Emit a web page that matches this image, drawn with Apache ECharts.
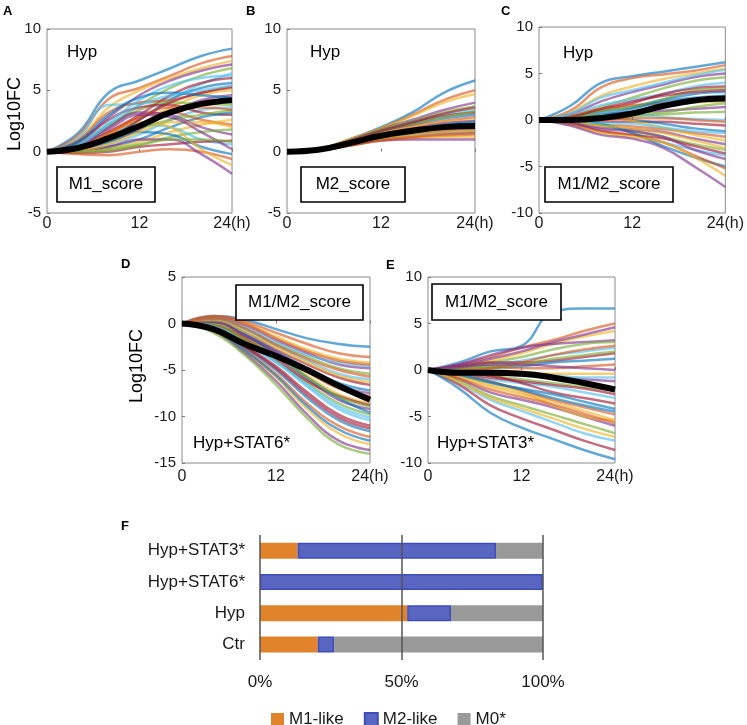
<!DOCTYPE html>
<html>
<head>
<meta charset="utf-8">
<script src="https://cdn.jsdelivr.net/npm/echarts@6/dist/echarts.min.js"></script>
<style>html,body{margin:0;padding:0;background:#fff;}#c{width:747px;height:725px;}</style>
</head>
<body>
<div id="c"></div>
<script>
// ---------------- DATA ----------------
const times = [0, 4, 8, 12, 16, 20, 24];
const xTickLabels = ['0', '12', '24(h)'];

// Panel A: Hyp, M1_score
const panelA_mean = [0, 0.3, 1.1, 2.1, 3.2, 3.9, 4.2];
const panelA_lines = [
  [0, 1.5, 4.8, 5.8, 6.8, 7.8, 8.4],
  [0, 1.3, 4.3, 5.2, 6.2, 7.2, 7.8],
  [0, 1.0, 3.6, 5.0, 6.0, 6.8, 7.4],
  [0, 0.8, 2.8, 4.6, 5.8, 6.6, 7.1],
  [0, 0.6, 2.0, 3.8, 5.2, 6.2, 6.8],
  [0, 1.1, 3.8, 3.9, 4.4, 5.5, 6.4],
  [0, 0.5, 1.6, 3.0, 4.6, 5.6, 6.0],
  [0, 0.4, 1.2, 2.6, 4.2, 5.2, 5.6],
  [0, 0.9, 3.2, 4.0, 4.2, 4.8, 5.2],
  [0, 0.3, 1.0, 2.2, 3.6, 4.6, 5.0],
  [0, 0.2, 0.8, 1.8, 3.2, 4.2, 4.6],
  [0, 0.6, 2.2, 3.4, 4.0, 3.9, 3.8],
  [0, 0.2, 0.6, 1.4, 2.6, 3.4, 3.6],
  [0, 0.7, 2.6, 3.6, 3.8, 3.2, 3.0],
  [0, 0.1, 0.4, 1.0, 2.0, 2.8, 3.2],
  [0, 0.4, 1.6, 2.8, 3.2, 2.6, 2.2],
  [0, 0.1, 0.3, 0.8, 1.6, 2.2, 2.6],
  [0, 0.5, 2.0, 3.2, 3.0, 2.0, 1.4],
  [0, 0.0, 0.2, 0.6, 1.2, 1.6, 1.8],
  [0, 0.3, 1.2, 2.2, 2.0, 1.0, 0.6],
  [0, -0.1, 0.0, 0.4, 0.6, 0.8, 0.9],
  [0, 0.2, 0.8, 1.6, 1.4, 0.4, -0.2],
  [0, -0.2, -0.3, 0.0, 0.2, 0.0, -0.6],
  [0, 0.4, 1.4, 2.4, 2.0, 0.2, -1.1],
  [0, 0.1, 0.4, 1.0, 1.0, -0.2, -1.8],
  [0, 0.3, 0.9, 1.9, 2.6, 3.0, 3.4],
  [0, 0.6, 2.4, 4.2, 5.4, 6.0, 6.2],
  [0, 0.2, 1.0, 2.6, 4.0, 4.8, 5.3],
  [0, 0.8, 3.0, 4.4, 4.8, 4.6, 4.4],
  [0, 0.3, 1.4, 2.8, 3.6, 3.6, 3.4],
  [0, 0.1, 0.6, 1.6, 2.4, 2.4, 2.0],
  [0, 0.4, 1.8, 3.0, 2.8, 1.6, 0.2],
  [0, 0.0, 0.1, 0.5, 1.0, 1.0, 0.8],
  [0, 0.5, 2.2, 3.8, 4.6, 5.0, 5.4]
];

// Panel B: Hyp, M2_score
const panelB_mean = [0, 0.15, 0.7, 1.3, 1.7, 2.0, 2.1];
const panelB_lines = [
  [0, 0.2, 1.0, 2.0, 3.2, 4.8, 5.8],
  [0, 0.2, 1.0, 1.9, 3.0, 4.2, 5.0],
  [0, 0.2, 1.0, 1.9, 2.9, 4.0, 4.7],
  [0, 0.2, 0.9, 1.8, 2.6, 3.4, 4.0],
  [0, 0.2, 0.9, 1.8, 2.5, 3.2, 3.7],
  [0, 0.2, 0.9, 1.7, 2.4, 3.0, 3.4],
  [0, 0.2, 0.8, 1.6, 2.3, 2.9, 3.2],
  [0, 0.2, 0.8, 1.6, 2.2, 2.7, 3.0],
  [0, 0.2, 0.8, 1.5, 2.1, 2.5, 2.8],
  [0, 0.2, 0.7, 1.5, 2.0, 2.4, 2.6],
  [0, 0.2, 0.7, 1.4, 1.9, 2.3, 2.5],
  [0, 0.2, 0.7, 1.3, 1.8, 2.1, 2.3],
  [0, 0.15, 0.6, 1.2, 1.6, 1.9, 2.0],
  [0, 0.15, 0.6, 1.1, 1.5, 1.7, 1.8],
  [0, 0.15, 0.6, 1.0, 1.4, 1.5, 1.6],
  [0, 0.15, 0.5, 1.0, 1.2, 1.3, 1.4],
  [0, 0.1, 0.5, 0.9, 1.1, 1.2, 1.2],
  [0, 0.1, 0.5, 0.9, 1.0, 1.0, 1.0],
  [0, 0.2, 0.8, 1.7, 2.3, 2.8, 3.3],
  [0, 0.15, 0.7, 1.2, 1.7, 2.1, 2.4],
  [0, 0.2, 0.9, 1.7, 2.4, 3.1, 3.6],
  [0, 0.15, 0.7, 1.4, 1.8, 2.2, 2.4],
  [0, 0.1, 0.5, 0.9, 1.2, 1.4, 1.5],
  [0, 0.15, 0.6, 1.1, 1.4, 1.6, 1.7]
];

// Panel C: Hyp, M1/M2_score
const panelC_mean = [0, 0.0, 0.2, 0.7, 1.5, 2.1, 2.3];
const panelC_lines = [
  [0, 1.5, 4.0, 4.7, 5.2, 5.7, 6.2],
  [0, 1.0, 3.5, 4.5, 4.9, 5.3, 5.9],
  [0, 0.8, 2.6, 3.6, 4.4, 5.0, 5.5],
  [0, 0.6, 2.0, 3.0, 3.8, 4.6, 5.0],
  [0, 0.4, 1.4, 2.4, 3.4, 4.2, 4.6],
  [0, 0.5, 1.6, 2.2, 2.8, 3.6, 4.0],
  [0, 0.3, 1.0, 1.8, 2.8, 3.4, 3.6],
  [0, 0.2, 0.8, 1.4, 2.2, 2.8, 3.0],
  [0, 0.4, 1.2, 1.6, 1.8, 2.2, 2.5],
  [0, 0.1, 0.4, 0.9, 1.5, 1.9, 2.0],
  [0, 0.2, 0.6, 0.8, 1.0, 1.2, 1.4],
  [0, 0.0, 0.2, 0.4, 0.6, 0.8, 0.9],
  [0, 0.2, 0.7, 0.6, 0.3, 0.1, 0.0],
  [0, -0.1, -0.2, -0.2, -0.2, -0.4, -0.6],
  [0, 0.1, 0.2, 0.0, -0.4, -0.9, -1.2],
  [0, -0.2, -0.5, -0.7, -1.0, -1.4, -1.8],
  [0, 0.2, 0.4, -0.1, -0.8, -1.6, -2.2],
  [0, -0.3, -0.8, -1.0, -1.3, -2.0, -2.6],
  [0, -0.2, -0.6, -1.2, -1.8, -2.6, -3.2],
  [0, -0.1, -0.4, -1.4, -2.4, -3.2, -3.8],
  [0, -0.4, -1.2, -1.6, -2.0, -2.8, -3.6],
  [0, 0.0, -0.4, -1.4, -2.8, -4.0, -5.0],
  [0, -0.4, -1.2, -1.6, -2.4, -3.8, -5.2],
  [0, -0.5, -1.4, -1.8, -2.4, -4.0, -6.0],
  [0, -0.6, -1.6, -2.0, -3.0, -5.0, -7.2],
  [0, 0.3, 1.0, 1.4, 2.2, 3.2, 3.4],
  [0, 0.7, 2.4, 3.2, 4.0, 4.8, 5.4],
  [0, 0.3, 1.2, 2.0, 2.6, 3.0, 3.2],
  [0, 0.1, 0.5, 1.2, 2.0, 2.4, 2.6],
  [0, 0.0, 0.0, 0.2, 0.2, 0.0, -0.2],
  [0, -0.2, -0.6, -0.9, -1.4, -2.2, -3.0],
  [0, -0.3, -1.0, -1.2, -1.8, -3.2, -4.2],
  [0, 0.2, 0.5, 0.6, 0.8, 1.4, 1.8],
  [0, -0.1, -0.3, -0.4, -0.8, -1.2, -1.4]
];

// Panel D: Hyp+STAT6*, M1/M2_score
const panelD_mean = [0, -0.6, -2.2, -3.5, -5.0, -6.7, -8.2];
const panelD_lines = [
  [0, 0.8, 0.4, -0.6, -1.6, -2.2, -2.5],
  [0, 0.8, 0.2, -1.0, -2.2, -3.2, -3.6],
  [0, 0.6, 0.0, -1.4, -2.8, -3.8, -4.2],
  [0, 0.6, -0.2, -1.8, -3.2, -4.4, -4.8],
  [0, 0.4, -0.6, -2.2, -3.6, -4.8, -5.4],
  [0, 0.4, -0.8, -2.4, -4.0, -5.4, -6.0],
  [0, 0.2, -1.0, -2.8, -4.4, -5.8, -6.6],
  [0, 0.2, -1.2, -3.0, -4.8, -6.4, -7.2],
  [0, 0.0, -1.4, -3.2, -5.2, -7.0, -7.8],
  [0, 0.0, -1.6, -3.4, -5.6, -7.6, -8.6],
  [0, -0.2, -1.8, -3.6, -6.0, -8.2, -9.2],
  [0, -0.2, -2.0, -4.0, -6.4, -8.6, -9.8],
  [0, -0.4, -2.2, -4.2, -6.8, -9.2, -10.4],
  [0, -0.4, -2.4, -4.6, -7.4, -9.8, -11.0],
  [0, -0.6, -2.6, -5.0, -8.0, -10.4, -11.6],
  [0, -0.6, -2.8, -5.4, -8.6, -11.0, -12.2],
  [0, -0.8, -3.0, -5.8, -9.2, -11.8, -13.0],
  [0, -0.8, -3.2, -6.2, -9.8, -12.6, -13.6],
  [0, -1.0, -3.4, -6.6, -10.2, -13.0, -14.0],
  [0, 0.6, -0.4, -2.0, -3.4, -4.2, -4.6],
  [0, -0.2, -1.6, -3.8, -6.2, -7.8, -8.8],
  [0, 0.2, -1.2, -3.4, -5.8, -8.0, -9.6],
  [0, 0.7, 0.0, -1.6, -3.0, -4.0, -4.4],
  [0, 0.3, -0.9, -2.6, -4.2, -5.6, -6.3],
  [0, 0.1, -1.3, -3.1, -5.0, -6.7, -7.5],
  [0, -0.1, -1.7, -3.5, -5.8, -7.9, -8.9],
  [0, -0.3, -2.1, -4.1, -6.6, -8.9, -10.1],
  [0, -0.5, -2.5, -4.8, -7.7, -10.1, -11.3],
  [0, -0.7, -2.9, -5.6, -8.9, -11.4, -12.6],
  [0, 0.5, -0.5, -2.3, -3.8, -5.0, -5.7]
];

// Panel E: Hyp+STAT3*, M1/M2_score
const panelE_mean = [0, -0.3, -0.3, -0.4, -0.8, -1.4, -2.1];
const panelE_lines = [
  [0, 0.8, 2.0, 2.6, 6.2, 6.6, 6.6],
  [0, 0.6, 1.4, 2.4, 3.2, 4.2, 5.0],
  [0, 0.4, 1.0, 1.8, 2.8, 3.6, 4.2],
  [0, 0.6, 1.6, 2.4, 2.8, 3.0, 3.2],
  [0, 0.3, 0.8, 1.4, 2.2, 2.8, 3.0],
  [0, 0.2, 0.6, 1.0, 1.6, 2.0, 2.4],
  [0, 0.4, 0.8, 0.8, 1.0, 1.4, 1.8],
  [0, 0.1, 0.2, 0.4, 0.8, 1.0, 1.2],
  [0, 0.2, 0.4, 0.2, 0.2, 0.4, 0.6],
  [0, 0.0, 0.0, -0.2, -0.4, -0.4, -0.4],
  [0, -0.2, -0.4, -0.6, -0.8, -1.0, -1.2],
  [0, -0.2, -0.6, -1.0, -1.4, -1.8, -2.2],
  [0, -0.4, -1.0, -1.4, -1.8, -2.4, -3.0],
  [0, -0.2, -0.6, -1.4, -2.4, -3.0, -3.6],
  [0, -0.6, -1.4, -2.0, -2.6, -3.4, -4.2],
  [0, -0.4, -1.2, -2.2, -3.2, -4.0, -4.8],
  [0, -0.8, -1.8, -2.6, -3.4, -4.4, -5.4],
  [0, -1.0, -2.4, -3.2, -4.0, -5.0, -6.0],
  [0, -1.2, -2.8, -3.8, -4.8, -5.8, -6.8],
  [0, -1.4, -3.2, -4.4, -5.6, -6.8, -7.6],
  [0, -1.6, -3.8, -5.2, -6.4, -7.6, -8.6],
  [0, -2.0, -4.6, -6.2, -7.4, -8.6, -9.6],
  [0, 0.0, 0.2, 0.8, 1.6, 2.2, 2.6],
  [0, -0.6, -1.6, -2.4, -3.8, -5.0, -5.4],
  [0, 0.5, 1.2, 2.0, 3.0, 3.8, 4.6],
  [0, 0.2, 0.4, 0.6, 1.2, 1.6, 2.0],
  [0, -0.1, -0.2, -0.4, -0.6, -0.8, -0.8],
  [0, -0.3, -0.8, -1.2, -1.6, -2.0, -2.6],
  [0, -0.5, -1.3, -2.1, -3.0, -3.8, -4.5],
  [0, -0.9, -2.1, -2.9, -3.7, -4.7, -5.7],
  [0, -1.3, -3.0, -4.1, -5.2, -6.3, -7.2],
  [0, 0.3, 0.6, 0.6, 0.4, 0.2, 0.0]
];

// Panel F: stacked proportions (%)
const barCategories = ['Ctr', 'Hyp', 'Hyp+STAT6*', 'Hyp+STAT3*'];
const m1Like = [20.4, 52.0, 0, 13.3];
const m2Like = [5.8, 15.5, 100, 70.1];
const m0Star = [73.8, 32.5, 0, 16.6];
const barTickLabels = { 0: '0%', 50: '50%', 100: '100%' };
const barGuides = [0, 50, 100];

// ---------------- CHART ----------------
const FONT = '"Liberation Sans", Arial, Helvetica, sans-serif';
const lineColors = ['#0072BD', '#D95319', '#EDB120', '#7E2F8E', '#77AC30', '#4DBEEE', '#A2142F'];

const panels = [
  { lines: panelA_lines, mean: panelA_mean, grid: { left: 47, top: 29, width: 185, height: 184 }, ymin: -5, ymax: 10, xm: 3 },
  { lines: panelB_lines, mean: panelB_mean, grid: { left: 287, top: 29, width: 188, height: 184 }, ymin: -5, ymax: 10, xm: 3 },
  { lines: panelC_lines, mean: panelC_mean, grid: { left: 539, top: 27, width: 189, height: 186 }, ymin: -10, ymax: 10, xm: 3 },
  { lines: panelD_lines, mean: panelD_mean, grid: { left: 182, top: 277, width: 188, height: 186 }, ymin: -15, ymax: 5, xm: 6 },
  { lines: panelE_lines, mean: panelE_mean, grid: { left: 428, top: 277, width: 187, height: 186 }, ymin: -10, ymax: 10, xm: 6 }
];

const grids = [], xAxes = [], yAxes = [], series = [];
panels.forEach((p, gi) => {
  grids.push(Object.assign({ show: true, borderColor: '#8a8a8a', borderWidth: 1, backgroundColor: 'transparent' }, p.grid));
  xAxes.push({
    type: 'value', gridIndex: gi, min: 0, max: 24, interval: 12,
    axisLine: { show: false }, splitLine: { show: false },
    axisTick: { show: true, inside: true, length: 3, lineStyle: { color: '#777' } },
    axisLabel: { margin: p.xm, fontSize: 16, color: '#1a1a1a', fontFamily: FONT,
      formatter: v => xTickLabels[Math.round(v / 12)] }
  });
  yAxes.push({
    type: 'value', gridIndex: gi, min: p.ymin, max: p.ymax, interval: 5,
    axisLine: { show: false }, splitLine: { show: false },
    axisTick: { show: true, inside: true, length: 3, lineStyle: { color: '#777' } },
    axisLabel: { margin: 6, fontSize: 15, color: '#1a1a1a', fontFamily: FONT }
  });
  p.lines.forEach((vals, k) => {
    series.push({
      type: 'line', xAxisIndex: gi, yAxisIndex: gi, silent: true,
      showSymbol: false, smooth: 0.45, z: 2,
      lineStyle: { width: 2.5, color: lineColors[k % lineColors.length], opacity: 0.62 },
      data: times.map((t, i) => [t, vals[i]])
    });
  });
  series.push({
    type: 'line', xAxisIndex: gi, yAxisIndex: gi, silent: true,
    showSymbol: false, smooth: 0.45, z: 3,
    lineStyle: { width: 6, color: '#000', opacity: 1 },
    data: times.map((t, i) => [t, p.mean[i]])
  });
});

// Bar grid
const gF = grids.length;
grids.push({ left: 260, top: 535, width: 283, height: 125, show: false });
xAxes.push({
  type: 'value', gridIndex: gF, min: 0, max: 100, interval: 50,
  axisLine: { show: false }, axisTick: { show: false }, splitLine: { show: false },
  axisLabel: { margin: 14, fontSize: 17, color: '#1a1a1a', fontFamily: FONT, formatter: v => barTickLabels[v] }
});
yAxes.push({
  type: 'category', gridIndex: gF, data: barCategories,
  axisLine: { show: false }, axisTick: { show: false }, splitLine: { show: false },
  axisLabel: { margin: 15, fontSize: 17, color: '#1a1a1a', fontFamily: FONT }
});
const barCommon = { type: 'bar', stack: 'f', xAxisIndex: gF, yAxisIndex: gF, barWidth: 16, silent: true };
series.push(Object.assign({}, barCommon, { name: 'M1-like', data: m1Like, itemStyle: { color: '#E0832A', borderWidth: 0 } }));
series.push(Object.assign({}, barCommon, { name: 'M2-like', data: m2Like, itemStyle: { color: '#5866C2', borderColor: '#3E4DBB', borderWidth: 1.5 } }));
series.push(Object.assign({}, barCommon, { name: 'M0*', data: m0Star, itemStyle: { color: '#999999', borderWidth: 0 },
  markLine: { silent: true, symbol: 'none', label: { show: false },
    lineStyle: { color: '#555', width: 1.5, type: 'solid' },
    data: barGuides.map(v => ({ xAxis: v })) } }));

// annotations
function boxLabel(x, y, w, h, text) {
  return [
    { type: 'rect', shape: { x: x, y: y, width: w, height: h }, style: { fill: '#fff', stroke: '#000', lineWidth: 1.6 }, z: 100 },
    { type: 'text', x: x + w / 2, y: y + h / 2, style: { text: text, fontSize: 17, fontFamily: FONT, fill: '#000', align: 'center', verticalAlign: 'middle' }, z: 101 }
  ];
}
function txt(x, y, text, size, bold, align) {
  return { type: 'text', x: x, y: y, z: 101, style: { text: text, fontSize: size, fontWeight: bold ? 'bold' : 'normal', fontFamily: FONT, fill: '#000', align: align || 'left', verticalAlign: 'middle' } };
}
const graphics = [].concat(
  txt(3, 11, 'A', 13, true), txt(246, 11, 'B', 13, true), txt(501, 11, 'C', 13, true),
  txt(121, 264, 'D', 13, true), txt(386, 265, 'E', 13, true), txt(121, 526, 'F', 13, true),
  { type: 'text', x: 15, y: 114, rotation: Math.PI / 2, z: 101, style: { text: 'Log10FC', fontSize: 18, fontFamily: FONT, fill: '#000', align: 'center', verticalAlign: 'middle' } },
  { type: 'text', x: 137, y: 366, rotation: Math.PI / 2, z: 101, style: { text: 'Log10FC', fontSize: 18, fontFamily: FONT, fill: '#000', align: 'center', verticalAlign: 'middle' } },
  txt(67, 52, 'Hyp', 17), txt(310, 52, 'Hyp', 17), txt(563, 53, 'Hyp', 17),
  txt(193, 443, 'Hyp+STAT6*', 17), txt(437, 443, 'Hyp+STAT3*', 17),
  boxLabel(57, 167, 98, 35, 'M1_score'),
  boxLabel(301, 167, 104, 35, 'M2_score'),
  boxLabel(545, 167, 128, 35, 'M1/M2_score'),
  boxLabel(236, 285, 127, 35, 'M1/M2_score'),
  boxLabel(432, 284, 129, 36, 'M1/M2_score')
);

const chart = echarts.init(document.getElementById('c'), null, { renderer: 'canvas' });
chart.setOption({
  animation: false,
  backgroundColor: '#fff',
  textStyle: { fontFamily: FONT },
  grid: grids, xAxis: xAxes, yAxis: yAxes, series: series,
  legend: {
    data: ['M1-like', 'M2-like', 'M0*'], left: 266, top: 706,
    itemWidth: 13, itemHeight: 13, itemGap: 20, icon: 'rect',
    textStyle: { fontSize: 17, color: '#1a1a1a', fontFamily: FONT }
  },
  graphic: graphics
});
</script>
</body>
</html>
